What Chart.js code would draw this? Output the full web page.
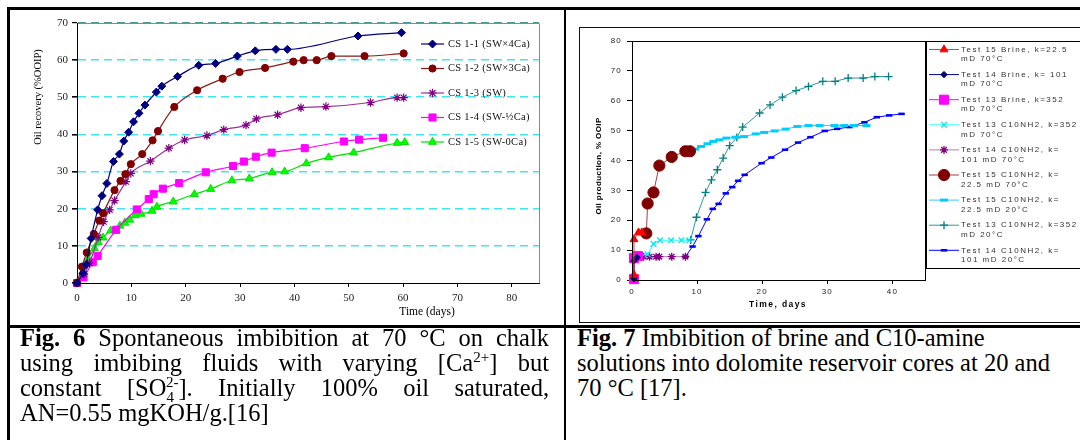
<!DOCTYPE html>
<html>
<head>
<meta charset="utf-8">
<script src="https://cdn.jsdelivr.net/npm/chart.js"></script>
<style>
html, body { margin: 0; padding: 0; background: #fff; }
body { width: 1080px; height: 440px; position: relative; overflow: hidden;
       font-family: "Liberation Serif", "Times New Roman", serif; }
.rule { position: absolute; background: #000; }
#fig6 { position: absolute; left: 10px; top: 10px; }
#frame7 { position: absolute; left: 579px; top: 27px; width: 520px; height: 294px; border: 1px solid #111; }
#fig7 { position: absolute; left: 580px; top: 28px; }
.cap { position: absolute; font-size: 24.5px; line-height: 25px; color: #000; white-space: nowrap; }
.cap .j { text-align: justify; text-align-last: justify; }
.cap sup, .cap sub { font-size: 15px; line-height: 0; }
</style>
</head>
<body>
<div class="rule" style="left:7px;top:7px;width:1073px;height:3px"></div>
<div class="rule" style="left:7px;top:7px;width:3px;height:433px"></div>
<div class="rule" style="left:564px;top:7px;width:2px;height:433px"></div>
<div class="rule" style="left:7px;top:325px;width:1073px;height:3px"></div>

<canvas id="fig6" width="554" height="316"></canvas>
<div id="frame7"></div>
<canvas id="fig7" width="500" height="294"></canvas>

<div class="cap" style="left:20px;top:325px;width:529px">
  <div class="j"><b>Fig. 6</b> Spontaneous imbibition at 70 °C on chalk</div>
  <div class="j">using imbibing fluids with varying [Ca<sup>2+</sup>] but</div>
  <div class="j">constant [SO<sub>4</sub><sup style="margin-left:-8px">2-</sup>]. Initially 100% oil saturated,</div>
  <div>AN=0.55 mgKOH/g.[16]</div>
</div>
<div class="cap" style="left:577px;top:325px;width:500px">
  <b>Fig. 7</b> Imbibition of brine and C10-amine<br>
  solutions into dolomite reservoir cores at 20 and<br>
  70 °C [17].
</div>

<script>
// ---- Fig. 6: oil recovery (%OOIP) vs time (days) ----
const cs11Days = [0, 1.1, 1.7, 2.6, 3.8, 4.6, 5.5, 6.7, 7.8, 8.6, 9.5, 10.4, 11.4, 12.5, 14.6, 15.6, 18.5, 22.4, 25.5, 29.5, 32.8, 36.6, 38.7, 51.7, 59.7];
const cs11Rec  = [0, 2.6, 5, 12, 19.7, 23.5, 26.8, 32.7, 34.7, 38.2, 40.6, 43.4, 45.7, 47.9, 51.4, 53, 55.6, 58.6, 59.1, 61.1, 62.5, 62.9, 62.9, 66.5, 67.4];
const cs12Days = [0, 0.9, 1.8, 3.1, 4.1, 4.8, 6.9, 8.0, 8.9, 9.9, 12.0, 13.9, 14.9, 17.9, 22.1, 26.8, 29.9, 34.6, 39.8, 41.7, 44.1, 46.8, 52.9, 60.1];
const cs12Rec  = [0, 4.4, 8.2, 13.2, 16.8, 18.8, 25, 27.5, 29.3, 32, 34.7, 38.4, 40.9, 47.4, 51.9, 55, 56.8, 57.9, 59.6, 60, 60, 61.1, 61.1, 61.8];
const cs13Days = [0, 1.3, 2.3, 3.9, 4.9, 6.0, 6.9, 9.0, 9.9, 13.5, 16.9, 19.8, 23.9, 27.0, 31.1, 33.0, 36.9, 41.2, 45.8, 54.0, 58.9, 60.1];
const cs13Rec  = [0, 2.4, 5.3, 12.3, 16.5, 19.7, 22.2, 27.3, 29.5, 32.8, 36.3, 38.5, 39.7, 41.3, 42.5, 44.2, 45.3, 47.2, 47.5, 48.6, 49.9, 49.9];
const cs14Days = [0, 1.2, 2.9, 3.8, 7.2, 11.0, 13.2, 14.1, 15.8, 18.8, 23.7, 28.7, 30.7, 32.9, 35.8, 41.9, 49.1, 51.9, 56.3];
const cs14Rec  = [0, 1.5, 5.6, 7.3, 14.3, 19.8, 22.6, 23.9, 25.4, 26.9, 29.8, 31.5, 32.7, 34, 35.1, 36.3, 38.1, 38.6, 39.1];
const cs15Days = [0, 1.0, 2.1, 3.2, 3.9, 4.8, 6.2, 7.0, 7.9, 8.8, 9.7, 10.7, 11.8, 13.8, 14.7, 17.7, 21.6, 24.6, 28.5, 31.7, 35.9, 38.2, 42.2, 46.3, 50.9, 58.9, 60.3];
const cs15Rec  = [0, 1.6, 6.5, 9.3, 11, 12.2, 14.1, 14.2, 15.4, 16.2, 17, 18.2, 18.6, 19.4, 20.5, 21.9, 23.9, 25.3, 27.6, 28.1, 29.8, 30, 32.2, 33.8, 35.1, 37.7, 37.9];
const fig6Labels = ['CS 1-1 (SW×4Ca)', 'CS 1-2 (SW×3Ca)', 'CS 1-3 (SW)', 'CS 1-4 (SW-½Ca)', 'CS 1-5 (SW-0Ca)'];

// ---- Fig. 7: oil production (% OOIP) vs time (days) ----
const t15bDays   = [0.3, 0.3, 1.0, 1.5];
const t15bProd   = [1.7, 13.6, 15.9, 15.9];
const t14bDays   = [0.3, 0.3, 0.8];
const t14bProd   = [0.5, 6.4, 7.6];
const t13bDays   = [0.3, 0.3, 0.9];
const t13bProd   = [0.3, 7.3, 8.0];
const t13c70Days = [0.9, 2.4, 3.3, 4.3, 6.0, 7.6, 8.8];
const t13c70Prod = [8.0, 8.6, 12.1, 13.3, 13.3, 13.3, 13.3];
const t14c70Days = [0.9, 1.8, 2.7, 3.7, 4.2, 6.1, 8.2];
const t14c70Prod = [7.8, 7.8, 7.8, 7.8, 7.8, 7.8, 7.8];
const t15c70Days = [2.2, 2.4, 3.3, 4.2, 6.1, 8.2, 8.9];
const t15c70Prod = [15.6, 25.6, 29.3, 38.3, 41.2, 43.1, 43.1];
const t15c20Days = [8.9, 9.7, 10.6, 11.6, 12.5, 13.4, 14.5, 15.9, 17.2, 19.0, 20.3, 21.9, 23.6, 25.4, 27.1, 28.8, 31.1, 32.6, 34.1, 36.0];
const t15c20Prod = [43.1, 43.8, 44.7, 45.6, 46.4, 46.9, 47.5, 47.8, 48.0, 48.9, 49.4, 49.9, 50.5, 51.4, 51.7, 51.7, 51.7, 51.7, 51.7, 51.7];
const t13c20Days = [9.0, 9.9, 11.3, 12.2, 13.1, 14.0, 15.0, 16.1, 17.0, 19.6, 21.2, 23.1, 25.2, 27.1, 29.3, 31.2, 33.2, 35.5, 37.3, 39.4];
const t13c20Prod = [13.4, 21, 29.3, 33.5, 36.9, 40.8, 45, 47.7, 51.2, 55.9, 58.6, 61.2, 63.4, 64.8, 66.5, 66.5, 67.6, 67.6, 68.1, 68.1];
const t14c20Days = [8.2, 9.3, 10.2, 11.5, 12.4, 13.3, 14.4, 15.4, 16.3, 17.3, 19.9, 21.4, 23.5, 25.5, 27.4, 29.6, 31.5, 33.4, 35.7, 37.6, 39.5, 41.4];
const t14c20Prod = [7.8, 11.2, 14.7, 20.3, 23.8, 25.5, 29, 31.1, 33.2, 35.2, 39.1, 41, 43.6, 46, 47.8, 49.9, 50.6, 51.2, 52.8, 54.5, 55.1, 55.6];
const fig7Labels = [
    ['Test 15 Brine, k=22.5', 'mD 70°C'],
    ['Test 14 Brine, k= 101', 'mD 70°C'],
    ['Test 13 Brine, k=352', 'mD 70°C'],
    ['Test 13 C10NH2, k=352', 'mD 70°C'],
    ['Test 14 C10NH2, k=', '101 mD 70°C'],
    ['Test 15 C10NH2, k=', '22.5 mD 70°C'],
    ['Test 15 C10NH2, k=', '22.5 mD 20°C'],
    ['Test 13 C10NH2, k=352', 'mD 20°C'],
    ['Test 14 C10NH2, k=', '101 mD 20°C']
];

const SERIF = '"Liberation Serif", "Times New Roman", serif';
const SANS = 'Arial, "Liberation Sans", sans-serif';

const pairs = (xs, ys) => xs.map((x, i) => ({ x: x, y: ys[i] }));

const series = (label, xs, ys, line, fill, stroke, style, radius, bw) => ({
    label: label,
    data: pairs(xs, ys),
    showLine: true,
    borderColor: line,
    borderWidth: 1.2,
    pointStyle: style,
    pointRadius: radius,
    pointBackgroundColor: fill,
    pointBorderColor: stroke,
    pointBorderWidth: bw,
    clip: false
});

// draws one marker the same way the datasets do
function marker(ctx, ds, x, y) {
    ctx.fillStyle = ds.pointBackgroundColor;
    ctx.strokeStyle = ds.pointBorderColor;
    ctx.lineWidth = ds.pointBorderWidth;
    if (Chart.helpers && Chart.helpers.drawPoint) {
        Chart.helpers.drawPoint(ctx, { pointStyle: ds.pointStyle, radius: ds.pointRadius, rotation: 0, borderWidth: ds.pointBorderWidth }, x, y);
    } else {
        ctx.beginPath();
        ctx.arc(x, y, ds.pointRadius, 0, Math.PI * 2);
        ctx.fill();
    }
}

function legend(chart, texts, o) {
    const ctx = chart.ctx;
    ctx.save();
    ctx.letterSpacing = o.spacing;
    if (o.box) {
        ctx.strokeStyle = '#000';
        ctx.lineWidth = 1;
        ctx.strokeRect(o.box[0] + 0.5, o.box[1] + 0.5, o.box[2], o.box[3]);
    }
    chart.data.datasets.forEach((ds, i) => {
        const y = o.top + i * o.rowGap;
        ctx.strokeStyle = ds.borderColor;
        ctx.lineWidth = ds.borderWidth;
        ctx.beginPath();
        ctx.moveTo(o.lineX, y);
        ctx.lineTo(o.lineX + o.lineLen, y);
        ctx.stroke();
        marker(ctx, ds, o.lineX + o.lineLen / 2, y);
        ctx.font = o.font;
        ctx.fillStyle = o.color;
        ctx.textBaseline = 'middle';
        ctx.textAlign = 'left';
        [].concat(texts[i]).forEach((t, k) => ctx.fillText(t, o.textX, y + k * o.lineGap));
    });
    ctx.restore();
}

function label(ctx, text, x, y, font, rotate, spacing) {
    ctx.save();
    ctx.letterSpacing = spacing || '0px';
    ctx.translate(x, y);
    if (rotate) ctx.rotate(-Math.PI / 2);
    ctx.font = font;
    ctx.fillStyle = '#000';
    ctx.textAlign = 'center';
    ctx.textBaseline = 'middle';
    ctx.fillText(text, 0, 0);
    ctx.restore();
}

// ---- Fig. 6 ----
const fig6Extras = {
    id: 'fig6Extras',
    beforeDraw(chart) {
        // grey plot frame on top and right, gridline dashes go over it
        const a = chart.chartArea, ctx = chart.ctx;
        ctx.save();
        ctx.strokeStyle = '#8a8a8a';
        ctx.lineWidth = 1;
        ctx.beginPath();
        ctx.moveTo(a.left, Math.round(a.top) + 0.5);
        ctx.lineTo(Math.round(a.right) + 0.5, Math.round(a.top) + 0.5);
        ctx.lineTo(Math.round(a.right) + 0.5, a.bottom);
        ctx.stroke();
        ctx.restore();
    },
    afterDraw(chart) {
        const ctx = chart.ctx;
        label(ctx, 'Oil recovery (%OOIP)', 28, 87, '10.5px ' + SERIF, true);
        label(ctx, 'Time (days)', 417, 302, '11.5px ' + SERIF, false);
        legend(chart, fig6Labels, {
            top: 34, rowGap: 24.5, lineGap: 0, lineX: 411, lineLen: 23, textX: 438,
            font: '10.5px ' + SERIF, color: '#111', spacing: '0.3px'
        });
    }
};

new Chart(document.getElementById('fig6').getContext('2d'), {
    type: 'scatter',
    data: {
        datasets: [
            series(fig6Labels[0], cs11Days, cs11Rec, '#000080', '#000080', '#000080', 'rectRot', 4, 1),
            series(fig6Labels[1], cs12Days, cs12Rec, '#8B1A1A', '#800000', '#800000', 'circle', 3.6, 1),
            series(fig6Labels[2], cs13Days, cs13Rec, '#993399', '#800080', '#800080', 'star', 4.2, 1.2),
            series(fig6Labels[3], cs14Days, cs14Rec, '#FF00FF', '#FF00FF', '#FF00FF', 'rect', 5, 1),
            series(fig6Labels[4], cs15Days, cs15Rec, '#00E000', '#00FF00', '#00E000', 'triangle', 4.6, 1)
        ].map(d => Object.assign(d, { cubicInterpolationMode: 'monotone' }))
    },
    options: {
        responsive: false,
        animation: false,
        events: [],
        layout: { padding: { top: 13, right: 25, left: 0, bottom: 0 } },
        plugins: { legend: { display: false }, tooltip: { enabled: false } },
        scales: {
            x: {
                type: 'linear', min: 0, max: 85,
                ticks: { stepSize: 10, includeBounds: false, padding: 5, color: '#222', font: { family: SERIF, size: 11 } },
                grid: { drawOnChartArea: false, tickLength: 4, color: '#000' },
                border: { color: '#000', width: 1 },
                afterFit: s => { s.height = 43; }
            },
            y: {
                min: 0, max: 70,
                ticks: { stepSize: 10, padding: 4, color: '#222', font: { family: SERIF, size: 11 } },
                grid: {
                    color: c => c.tick && c.tick.value === 70 ? '#4a9a9a' : (c.tick && c.tick.value === 0 ? 'rgba(0,0,0,0)' : '#3fe6f2'),
                    lineWidth: c => c.tick && c.tick.value === 70 ? 1.2 : 1.6,
                    borderDash: [8, 5],
                    tickColor: '#000', tickLength: 5, tickBorderDash: []
                },
                border: { color: '#000', width: 1, dash: [8, 5] },
                afterFit: s => { s.width = 67; }
            }
        }
    },
    plugins: [fig6Extras]
});

// ---- Fig. 7 ----
const fig7Extras = {
    id: 'fig7Extras',
    beforeLayout(chart) { chart.ctx.letterSpacing = '1.2px'; },
    beforeDraw(chart) { chart.ctx.letterSpacing = '1.2px'; },
    afterDraw(chart) {
        const a = chart.chartArea, ctx = chart.ctx;
        ctx.save();
        ctx.strokeStyle = '#000';
        ctx.lineWidth = 1;
        ctx.strokeRect(Math.round(a.left) + 0.5, Math.round(a.top) + 0.5, Math.round(a.right - a.left), Math.round(a.bottom - a.top));
        ctx.restore();
        label(ctx, 'Oil production, % OOIP', 19, 138, 'bold 8px ' + SANS, true, '0.4px');
        label(ctx, 'Time, days', 198, 277, 'bold 8.5px ' + SANS, false, '1.4px');
        legend(chart, fig7Labels, {
            box: [346, 13, 160, 227],
            top: 21.5, rowGap: 25.1, lineGap: 9.5, lineX: 349, lineLen: 30, textX: 381,
            font: '8px ' + SANS, color: '#333', spacing: '1.5px'
        });
    }
};

new Chart(document.getElementById('fig7').getContext('2d'), {
    type: 'scatter',
    data: {
        datasets: [
            series(fig7Labels[0].join(' '), t15bDays, t15bProd, '#FF3030', '#FF0000', '#FF0000', 'triangle', 4.6, 1),
            series(fig7Labels[1].join(' '), t14bDays, t14bProd, '#000080', '#000080', '#000080', 'rectRot', 3.2, 1),
            series(fig7Labels[2].join(' '), t13bDays, t13bProd, '#FF00FF', '#FF00FF', '#FF00FF', 'rect', 6.4, 1),
            series(fig7Labels[3].join(' '), t13c70Days, t13c70Prod, '#33FFFF', '#00FFFF', '#00E8F0', 'crossRot', 4, 1.3),
            series(fig7Labels[4].join(' '), t14c70Days, t14c70Prod, '#B27FC0', '#800080', '#800080', 'star', 4, 1.3),
            series(fig7Labels[5].join(' '), t15c70Days, t15c70Prod, '#A04040', '#800000', '#800000', 'circle', 5.6, 1),
            series(fig7Labels[6].join(' '), t15c20Days, t15c20Prod, '#33CCFF', '#00CCFF', '#00CCFF', 'line', 4, 3),
            series(fig7Labels[7].join(' '), t13c20Days, t13c20Prod, '#339999', '#008080', '#008080', 'cross', 4, 1.3),
            series(fig7Labels[8].join(' '), t14c20Days, t14c20Prod, '#0000FF', '#0000FF', '#0000FF', 'line', 3.2, 2.6)
        ].map(d => Object.assign(d, { borderWidth: 1 }))
    },
    options: {
        responsive: false,
        animation: false,
        events: [],
        layout: { padding: { top: 13, right: 155, left: 0, bottom: 0 } },
        plugins: { legend: { display: false }, tooltip: { enabled: false } },
        scales: {
            x: {
                type: 'linear', min: 0, max: 45,
                ticks: { stepSize: 10, includeBounds: false, padding: 3, color: '#222', font: { family: SANS, size: 8 } },
                grid: { drawOnChartArea: false, tickLength: 4, color: '#000' },
                border: { color: '#000', width: 1 },
                afterFit: s => { s.height = 42; }
            },
            y: {
                min: 0, max: 80,
                ticks: { stepSize: 10, padding: 5, color: '#222', font: { family: SANS, size: 8 } },
                grid: { drawOnChartArea: false, tickLength: 5, color: '#000' },
                border: { color: '#000', width: 1 },
                afterFit: s => { s.width = 52; }
            }
        }
    },
    plugins: [fig7Extras]
});
</script>
</body>
</html>
